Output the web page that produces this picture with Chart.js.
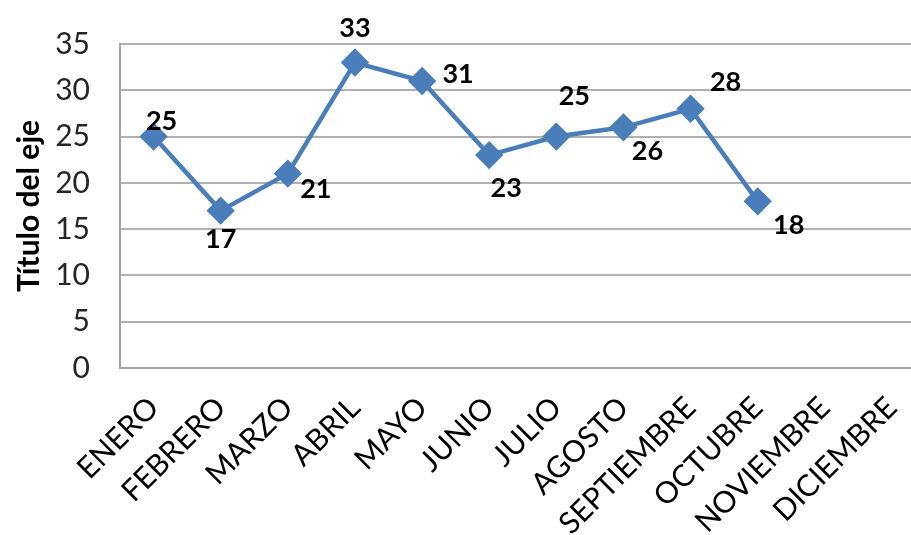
<!DOCTYPE html>
<html>
<head>
<meta charset="utf-8">
<script src="https://cdn.jsdelivr.net/npm/chart.js@4.4.0/dist/chart.umd.min.js"></script>
<style>
  html, body { margin: 0; padding: 0; background: #fff; overflow: hidden; }
  #wrap { width: 941px; height: 535px; }
</style>
</head>
<body>
<div id="wrap"><canvas id="grafico"></canvas></div>
<script>
// datos del gráfico
const meses = ['ENERO', 'FEBRERO', 'MARZO', 'ABRIL', 'MAYO', 'JUNIO', 'JULIO',
  'AGOSTO', 'SEPTIEMBRE', 'OCTUBRE', 'NOVIEMBRE', 'DICIEMBRE'];
const valores = [25, 17, 21, 33, 31, 23, 25, 26, 28, 18, null, null];
const ticksY = [0, 5, 10, 15, 20, 25, 30, 35];

// desplazamiento de cada etiqueta respecto a su punto (px)
const desplEtiquetas = [[8, -15], [0, 29], [28, 16], [0, -34], [36, -7],
  [17, 33], [18, -40], [24, 24], [35, -27], [31, 24]];

const azul = '#4a7ebb';
const fuente = 'Lato, "Liberation Sans", sans-serif';

// plugin sencillo para dibujar los valores
const etiquetasPlugin = {
  id: 'etiquetas',
  afterDatasetsDraw(chart) {
    const ctx = chart.ctx;
    const meta = chart.getDatasetMeta(0);
    ctx.save();
    ctx.font = 'bold 27px ' + fuente;
    ctx.fillStyle = '#000';
    ctx.textAlign = 'center';
    ctx.textBaseline = 'middle';
    meta.data.forEach((pt, i) => {
      const v = valores[i];
      if (v === null || v === undefined) return;
      const d = desplEtiquetas[i] || [0, -20];
      ctx.fillText(String(v), pt.x + d[0], pt.y + d[1]);
    });
    ctx.restore();
  }
};

new Chart(document.getElementById('grafico').getContext('2d'), {
  type: 'line',
  data: {
    labels: meses,
    datasets: [{
      data: valores,
      borderColor: azul,
      backgroundColor: azul,
      borderWidth: 4.5,
      pointStyle: 'rectRot',
      pointRadius: 11,
      pointHoverRadius: 11,
      pointBackgroundColor: azul,
      pointBorderColor: azul,
      tension: 0,
      spanGaps: false
    }]
  },
  options: {
    responsive: true,
    maintainAspectRatio: false,
    animation: false,
    layout: { padding: { top: 44, right: 1, bottom: 0, left: 0 } },
    plugins: {
      legend: { display: false },
      tooltip: { enabled: false }
    },
    scales: {
      x: {
        offset: true,
        grid: { display: false, drawTicks: false },
        border: { display: true, color: '#a6a6a6', width: 2 },
        ticks: {
          autoSkip: false,
          minRotation: 45,
          maxRotation: 45,
          padding: 22,
          color: '#000',
          font: { family: fuente, size: 30 }
        },
        afterFit(scale) {
          scale.height = 167;
        }
      },
      y: {
        min: 0,
        max: 35,
        afterBuildTicks(scale) {
          scale.ticks = ticksY.map(v => ({ value: v }));
        },
        grid: { color: '#b0b0b0', lineWidth: 2, drawTicks: false },
        border: { display: true, color: '#a6a6a6', width: 2 },
        ticks: {
          padding: 30,
          color: '#262626',
          font: { family: fuente, size: 30 }
        },
        title: {
          display: true,
          text: 'Título del eje',
          color: '#000',
          padding: { top: 11, bottom: 0 },
          font: { family: fuente, size: 30, weight: 'bold' }
        },
        afterFit(scale) {
          scale.width = 120;
          scale.paddingTop = 0;
          scale.paddingBottom = 0;
        }
      }
    }
  },
  plugins: [etiquetasPlugin]
});
</script>
</body>
</html>
